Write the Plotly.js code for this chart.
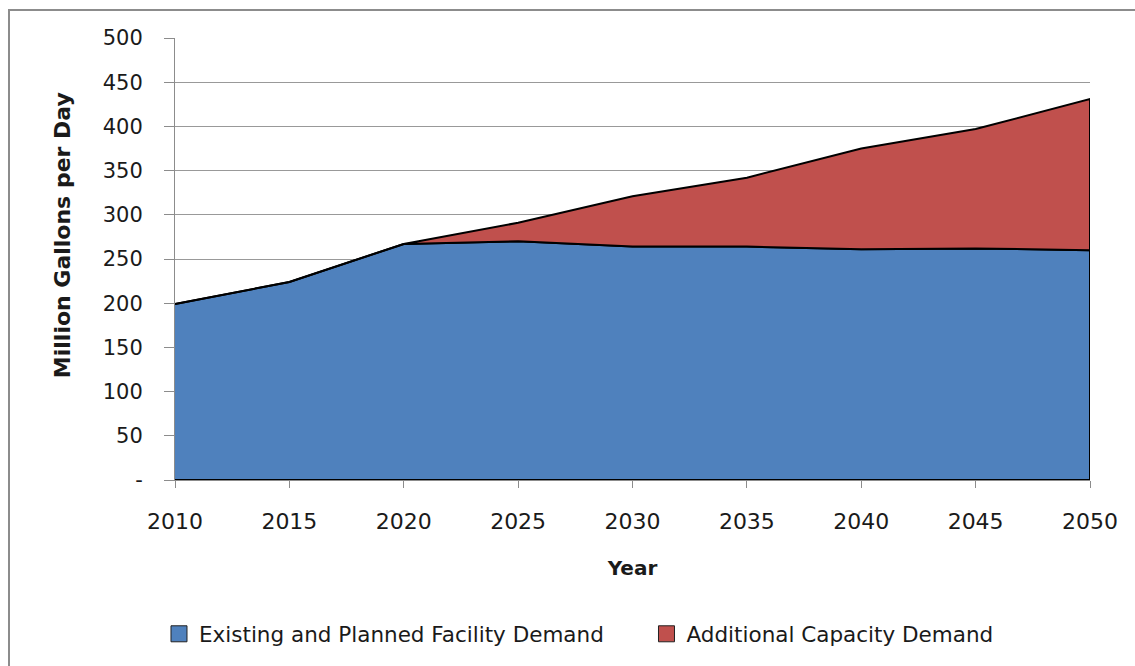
<!DOCTYPE html>
<html>
<head>
<meta charset="utf-8">
<script src="https://cdn.plot.ly/plotly-3.0.1.min.js"></script>
<style>
html,body{margin:0;padding:0;background:#fff;overflow:hidden;}
#frame{position:absolute;left:8px;top:9px;width:1200px;height:700px;border-top:2px solid #8c8c8c;border-left:2px solid #8c8c8c;}
#chart{position:absolute;left:0;top:0;width:1135px;height:666px;}
</style>
</head>
<body>
<div id="frame"></div>
<div id="chart"></div>
<script>
const years = [2010, 2015, 2020, 2025, 2030, 2035, 2040, 2045, 2050];
const existingDemand = [199, 224, 267, 270, 264, 264, 261, 262, 260];
const additionalDemand = [0, 0, 0, 21, 57, 78, 114, 135, 171];
const yTickVals = [0, 50, 100, 150, 200, 250, 300, 350, 400, 450, 500];
const yTickText = ['-', '50', '100', '150', '200', '250', '300', '350', '400', '450', '500'];
const seriesNames = ['Existing and Planned Facility Demand', 'Additional Capacity Demand'];
const seriesColors = ['#4f81bd', '#c0504d'];
const xTitle = 'Year';
const yTitle = 'Million Gallons per Day';

const totals = years.map((_, i) => existingDemand[i] + additionalDemand[i]);
const revYears = years.slice().reverse();

const blueTrace = {
  x: years.concat(revYears),
  y: existingDemand.concat(years.map(() => 0)),
  type: 'scatter', mode: 'lines', fill: 'toself',
  fillcolor: seriesColors[0],
  line: {color: '#000', width: 2},
  showlegend: false, hoverinfo: 'skip'
};
const redTrace = {
  x: years.concat(revYears),
  y: totals.concat(existingDemand.slice().reverse()),
  type: 'scatter', mode: 'lines', fill: 'toself',
  fillcolor: seriesColors[1],
  line: {color: '#000', width: 2},
  showlegend: false, hoverinfo: 'skip'
};
const legendIds = ['legend', 'legend2'];
const legendTraces = seriesNames.map((n, i) => ({
  x: [null], y: [null], type: 'scatter', mode: 'markers', name: n,
  legend: legendIds[i],
  marker: {symbol: 'square', size: 16, color: seriesColors[i], line: {color: '#222', width: 1}},
  hoverinfo: 'skip'
}));

const hfont = '"DejaVu Sans", Verdana, sans-serif';
const legendBase = {orientation: 'h', xanchor: 'left', y: -0.348, yanchor: 'middle',
  font: {family: hfont, size: 21.5, color: '#1a1a1a'}, itemwidth: 30, bgcolor: 'rgba(0,0,0,0)'};
const layout = {
  width: 1135, height: 666,
  margin: {l: 175, r: 45, t: 38, b: 186},
  paper_bgcolor: 'rgba(0,0,0,0)', plot_bgcolor: 'rgba(0,0,0,0)',
  font: {family: hfont, size: 21, color: '#1a1a1a'},
  showlegend: true,
  legend: Object.assign({}, legendBase, {x: -0.0175}),
  legend2: Object.assign({}, legendBase, {x: 0.5153}),
  xaxis: {
    range: [2010, 2050], tickvals: years, ticktext: years.map(String),
    ticks: 'outside', ticklen: 7, tickcolor: '#8c8c8c', ticklabelstandoff: 15,
    showline: true, linecolor: '#8c8c8c', linewidth: 1,
    showgrid: false, zeroline: false,
    title: {text: '<b>' + xTitle + '</b>', font: {family: hfont, size: 20, color: '#1a1a1a'}, standoff: 27},
    tickfont: {family: hfont, size: 22, color: '#1a1a1a'}
  },
  yaxis: {
    range: [0, 500], tickvals: yTickVals, ticktext: yTickText,
    ticks: 'outside', ticklen: 10, tickcolor: '#8c8c8c', ticklabelstandoff: 17,
    showline: true, linecolor: '#8c8c8c', linewidth: 1,
    showgrid: true, gridcolor: '#999999', gridwidth: 1, zeroline: false,
    tickfont: {family: hfont, size: 21, color: '#1a1a1a'}
  },
  annotations: [{
    text: '<b>' + yTitle + '</b>', xref: 'paper', yref: 'paper',
    x: -0.1235, y: 0.554, xanchor: 'center', yanchor: 'middle', textangle: -90,
    showarrow: false, font: {family: hfont, size: 22, color: '#1a1a1a'}
  }]
};
Plotly.newPlot('chart', [blueTrace, redTrace].concat(legendTraces), layout, {displayModeBar: false, staticPlot: true});
</script>
</body>
</html>
